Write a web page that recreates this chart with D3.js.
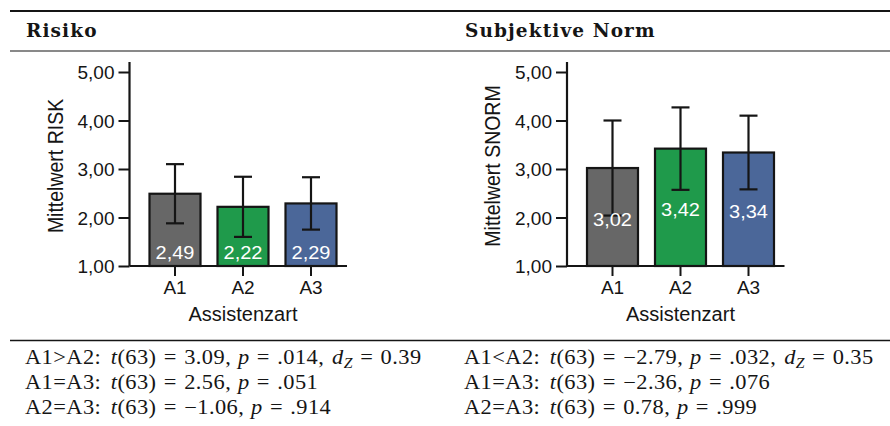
<!DOCTYPE html>
<html>
<head>
<meta charset="utf-8">
<script src="https://cdn.jsdelivr.net/npm/d3@7"></script>
<style>
  html, body { margin: 0; padding: 0; background: #fff; }
  svg { display: block; }
  text { white-space: pre; }
</style>
</head>
<body>
<svg id="chart" width="890" height="426"></svg>
<script>
// ---- data ----
const categories = ["A1", "A2", "A3"];
const riskMeans = [2.49, 2.22, 2.29];
const riskSD = [0.61, 0.62, 0.54];
const normMeans = [3.02, 3.42, 3.34];
const normSD = [0.98, 0.85, 0.76];
const yTicks = [1, 2, 3, 4, 5];
const barColors = ["#676767", "#1f9a4b", "#4b6799"];
const panelTitles = ["Risiko", "Subjektive Norm"];
const yTitles = ["Mittelwert RISK", "Mittelwert SNORM"];
const xTitle = "Assistenzart";
const testDF = 63;
const riskTests = [
  { pair: "A1>A2", t: "3.09", p: ".014", dz: "0.39" },
  { pair: "A1=A3", t: "2.56", p: ".051" },
  { pair: "A2=A3", t: "\u22121.06", p: ".914" }
];
const normTests = [
  { pair: "A1<A2", t: "\u22122.79", p: ".032", dz: "0.35" },
  { pair: "A1=A3", t: "\u22122.36", p: ".076" },
  { pair: "A2=A3", t: "0.78", p: ".999" }
];

// ---- setup ----
const svg = d3.select("#chart");
const sans = "'Liberation Sans', Arial, sans-serif";
const serif = "'Liberation Serif', 'Times New Roman', serif";
const ink = "#151515";
const de = d3.formatLocale({ decimal: ",", thousands: ".", grouping: [3], currency: ["", "\u20ac"] });
const fmt = de.format(".2f");

const yScale = d3.scaleLinear().domain([1, 5]).range([266, 72]);

// table rules
svg.append("line").attr("x1", 10).attr("x2", 890).attr("y1", 11).attr("y2", 11)
  .attr("stroke", ink).attr("stroke-width", 2);
svg.append("line").attr("x1", 10).attr("x2", 890).attr("y1", 51).attr("y2", 51)
  .attr("stroke", ink).attr("stroke-width", 1.2);
svg.append("line").attr("x1", 10).attr("x2", 890).attr("y1", 340.5).attr("y2", 340.5)
  .attr("stroke", ink).attr("stroke-width", 1.5);

const panels = [
  { title: panelTitles[0], yTitle: yTitles[0], means: riskMeans, sd: riskSD, tests: riskTests,
    textX: 25, axisX: 129.5, labelMode: "base" },
  { title: panelTitles[1], yTitle: yTitles[1], means: normMeans, sd: normSD, tests: normTests,
    textX: 464, axisX: 567, labelMode: "middle" }
];

// one line of a pairwise comparison, typeset with italic math symbols
function comparisonLine(parent, t, x, y) {
  const tx = parent.append("text")
    .attr("transform", `translate(${x},${y}) scale(1.12,1)`);
  const seg = (s, opts = {}) => {
    const sp = tx.append("tspan").text(s);
    if (opts.it) sp.attr("font-style", "italic");
    if (opts.dx) sp.attr("dx", opts.dx);
    if (opts.dy) sp.attr("dy", opts.dy);
    if (opts.size) sp.attr("font-size", opts.size);
    return sp;
  };
  const eq = v => { seg("=", { dx: 6.5 }); seg(v, { dx: 6.5 }); };
  seg(`${t.pair}:`);
  seg("t", { it: true, dx: 8.5 });
  seg(`(${testDF})`);
  eq(`${t.t},`);
  seg("p", { it: true, dx: 6 });
  eq(t.p);
  if (t.dz) {
    seg(",");
    seg("d", { it: true, dx: 7 });
    seg("Z", { it: true, size: 14, dy: 4 });
    seg("=", { dx: 6.5, dy: -4 });
    seg(t.dz, { dx: 6.5 });
  }
}

panels.forEach(p => {
  // column heading
  svg.append("text")
    .attr("x", p.textX + 1).attr("y", 37)
    .attr("font-family", "'DejaVu Serif', serif").attr("font-weight", "bold")
    .attr("font-size", 18.5).attr("letter-spacing", 1.1).attr("fill", ink)
    .text(p.title);

  const g = svg.append("g");
  const x0 = p.axisX + 11.5;
  const xScale = d3.scaleBand().domain(categories).range([x0, x0 + 204])
    .paddingInner(0.25).paddingOuter(0.125);

  // bars
  g.selectAll("rect.bar").data(categories).join("rect")
    .attr("class", "bar")
    .attr("x", d => xScale(d))
    .attr("width", xScale.bandwidth())
    .attr("y", (d, i) => yScale(p.means[i]))
    .attr("height", (d, i) => yScale(1) - yScale(p.means[i]))
    .attr("fill", (d, i) => barColors[i])
    .attr("stroke", ink).attr("stroke-width", 2.2);

  // y axis
  const yAxis = d3.axisLeft(yScale).tickValues(yTicks).tickFormat(fmt)
    .tickSize(11).tickSizeOuter(0).tickPadding(4);
  const ya = g.append("g").attr("transform", `translate(${p.axisX},0)`).call(yAxis);
  ya.select(".domain").remove();
  ya.selectAll(".tick line").attr("stroke", ink).attr("stroke-width", 2);
  ya.selectAll(".tick text").attr("font-family", sans).attr("font-size", 19)
    .attr("fill", ink).attr("dy", "0.35em");
  g.append("line").attr("x1", p.axisX).attr("x2", p.axisX)
    .attr("y1", yScale(1)).attr("y2", yScale(5) - 10)
    .attr("stroke", ink).attr("stroke-width", 2.2);

  // x axis
  const xAxis = d3.axisBottom(xScale).tickSize(10).tickSizeOuter(0).tickPadding(5);
  const xa = g.append("g").attr("transform", `translate(0,${yScale(1)})`).call(xAxis);
  xa.select(".domain").remove();
  xa.selectAll(".tick line").attr("stroke", ink).attr("stroke-width", 2);
  xa.selectAll(".tick text").attr("font-family", sans).attr("font-size", 19)
    .attr("fill", ink);
  g.append("line").attr("x1", p.axisX).attr("x2", x0 + 206)
    .attr("y1", yScale(1)).attr("y2", yScale(1))
    .attr("stroke", ink).attr("stroke-width", 2.2);

  // error bars (mean ± SD)
  const cap = 9;
  categories.forEach((c, i) => {
    const cx = xScale(c) + xScale.bandwidth() / 2;
    const lo = yScale(p.means[i] - p.sd[i]);
    const hi = yScale(p.means[i] + p.sd[i]);
    g.append("line").attr("x1", cx).attr("x2", cx).attr("y1", lo).attr("y2", hi)
      .attr("stroke", ink).attr("stroke-width", 2.2);
    [lo, hi].forEach(yy => g.append("line")
      .attr("x1", cx - cap).attr("x2", cx + cap).attr("y1", yy).attr("y2", yy)
      .attr("stroke", ink).attr("stroke-width", 2.2));
  });

  // value labels
  g.selectAll("text.val").data(categories).join("text")
    .attr("class", "val")
    .attr("transform", (d, i) => {
      const lx = xScale(d) + xScale.bandwidth() / 2;
      const ly = p.labelMode === "base"
        ? yScale(1) - 7
        : (yScale(p.means[i]) + yScale(1)) / 2 + 9;
      return `translate(${lx},${ly}) scale(1.08,1)`;
    })
    .attr("text-anchor", "middle")
    .attr("font-family", sans).attr("font-size", 18.5).attr("fill", "#fff")
    .text((d, i) => fmt(p.means[i]));

  // axis titles
  g.append("text")
    .attr("transform", `translate(${p.axisX - 67},${(yScale(1) + yScale(5)) / 2 - 3}) scale(1.12,1) rotate(-90)`)
    .attr("text-anchor", "middle")
    .attr("font-family", sans).attr("font-size", 19.5).attr("fill", ink)
    .text(p.yTitle);
  g.append("text")
    .attr("x", xScale("A2") + xScale.bandwidth() / 2).attr("y", 321)
    .attr("text-anchor", "middle")
    .attr("font-family", sans).attr("font-size", 20).attr("fill", ink)
    .text(xTitle);

  // pairwise comparisons
  const lines = svg.append("g").attr("font-family", serif).attr("font-size", 20)
    .attr("letter-spacing", 0.4).attr("fill", ink);
  p.tests.forEach((t, k) => comparisonLine(lines, t, p.textX, 364 + k * 25));
});
</script>
</body>
</html>
